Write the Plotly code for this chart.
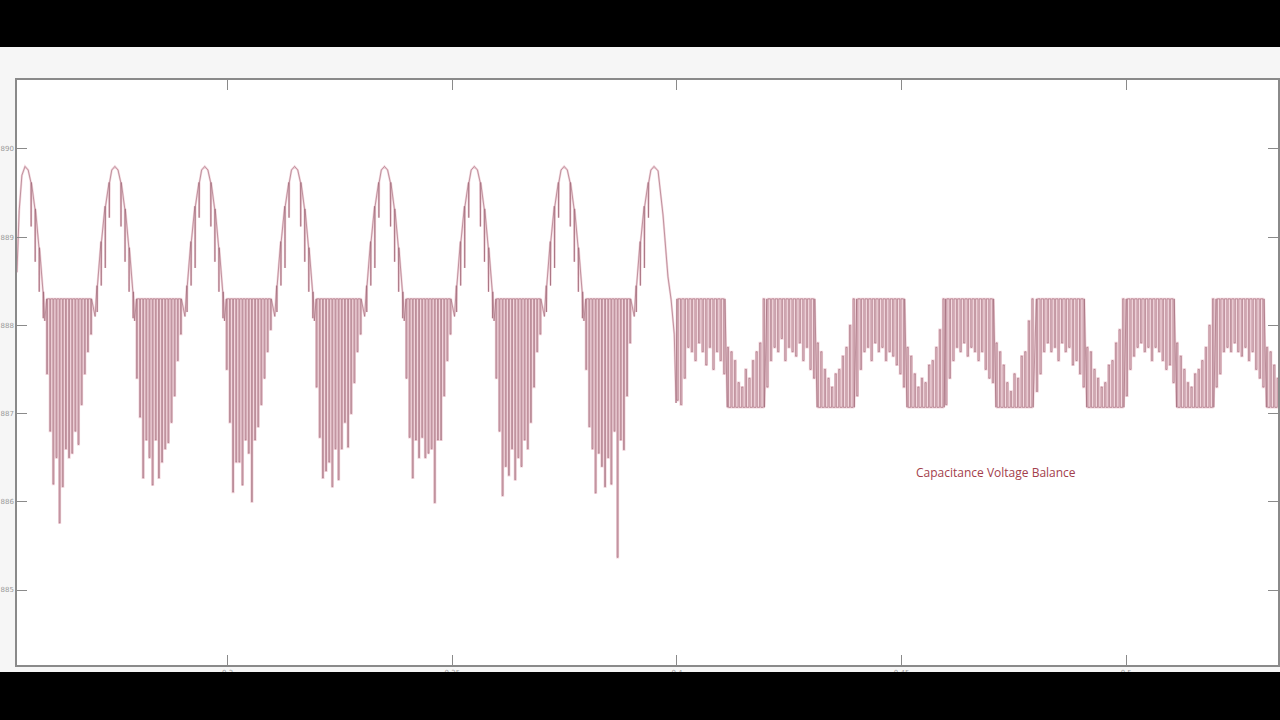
import plotly.graph_objects as go

# ---------------- data ----------------
# Phase 1: unbalanced capacitor voltage (peaks of the 50 Hz ripple)
PEAK_TIMES = [0.2549, 0.2749, 0.2949, 0.3149, 0.3349, 0.3549, 0.3749, 0.3949]
ARC_OFFSETS = [-0.0044, -0.0040, -0.0031, -0.0022, -0.0013, -0.0007, 0.0,
               0.0007, 0.0013, 0.0022, 0.0031, 0.0040, 0.0044]
ARC_VALUES = [888.10, 888.45, 888.95, 889.35, 889.62, 889.76, 889.80,
              889.76, 889.62, 889.32, 888.88, 888.38, 888.05]
ARC_DIPS = [0.0, 0.3, 0.5, 0.7, 0.4, 0.0, 0.0, 0.0, 0.5, 0.6, 0.5, 0.3, 0.0]
TROUGH_TOP = 888.3
TROUGH_BOTTOMS = [
    [887.45, 886.80, 886.20, 886.50, 885.76, 886.17, 886.60, 886.50, 886.55, 886.80, 886.65, 887.10, 887.45, 887.70, 887.90],
    [887.40, 886.96, 886.27, 886.70, 886.50, 886.19, 886.70, 886.27, 886.45, 886.60, 886.67, 886.90, 887.20, 887.60, 887.90],
    [887.50, 886.90, 886.11, 886.45, 886.45, 886.19, 886.70, 886.55, 886.00, 886.70, 886.85, 887.10, 887.40, 887.70, 887.95],
    [887.30, 886.73, 886.27, 886.35, 886.45, 886.17, 886.60, 886.25, 886.60, 886.90, 886.62, 887.00, 887.35, 887.70, 887.90],
    [887.40, 886.73, 886.27, 886.70, 886.50, 886.73, 886.50, 886.55, 886.60, 885.99, 886.70, 886.70, 887.20, 887.60, 887.90],
    [887.40, 886.80, 886.07, 886.40, 886.30, 886.60, 886.25, 886.50, 886.40, 886.70, 886.60, 886.90, 887.30, 887.70, 887.90],
    [887.50, 886.85, 886.60, 886.10, 886.55, 886.40, 886.17, 886.50, 886.20, 886.80, 885.37, 886.70, 886.59, 887.20, 887.80],
]
LEAD_OFFSETS = [-0.0018, -0.0013, -0.0007]
LEAD_VALUES = [888.60, 889.30, 889.70]
TAIL_OFFSETS = [0.0009, 0.0020, 0.0031, 0.0038, 0.0045, 0.0049]
TAIL_VALUES = [889.75, 889.25, 888.55, 888.29, 887.90, 887.12]

# Phase 2: balanced capacitor voltage
BAL_STARTS = [0.4000, 0.4200, 0.4400, 0.4598, 0.4800, 0.5000, 0.5200]
BAL_TOP = 888.30
BAL_BOTTOM = 887.07
BAL_HIGH_LOWS = [
    [887.15, 887.10, 887.40, 887.75, 887.70, 887.60, 887.80, 887.70, 887.55, 887.75, 887.50, 887.70, 887.60, 887.45],
    [887.30, 887.60, 887.75, 887.70, 887.85, 887.60, 887.75, 887.70, 887.65, 887.80, 887.60, 887.75, 887.50, 887.40],
    [887.20, 887.50, 887.70, 887.75, 887.60, 887.80, 887.70, 887.75, 887.60, 887.70, 887.65, 887.55, 887.45, 887.30],
    [887.10, 887.40, 887.60, 887.75, 887.70, 887.80, 887.65, 887.75, 887.70, 887.60, 887.70, 887.50, 887.40, 887.35],
    [887.25, 887.45, 887.70, 887.80, 887.70, 887.75, 887.60, 887.80, 887.70, 887.75, 887.55, 887.60, 887.45, 887.30],
    [887.20, 887.50, 887.65, 887.75, 887.80, 887.70, 887.75, 887.60, 887.75, 887.70, 887.60, 887.50, 887.55, 887.35],
    [887.30, 887.45, 887.70, 887.75, 887.70, 887.80, 887.70, 887.65, 887.75, 887.60, 887.70, 887.50, 887.40, 887.30],
]
BAL_LOW_HIGHS = [
    [887.75, 887.70, 887.60, 887.35, 887.30, 887.50, 887.40, 887.60, 887.70, 887.80, 888.30],
    [887.80, 887.70, 887.50, 887.40, 887.30, 887.45, 887.50, 887.65, 887.75, 888.00, 888.30],
    [887.75, 887.65, 887.45, 887.30, 887.40, 887.35, 887.55, 887.60, 887.75, 887.95, 888.30],
    [887.80, 887.70, 887.55, 887.35, 887.25, 887.45, 887.40, 887.65, 887.70, 888.05, 888.30],
    [887.75, 887.70, 887.50, 887.40, 887.30, 887.35, 887.55, 887.60, 887.80, 887.95, 888.30],
    [887.80, 887.65, 887.50, 887.35, 887.30, 887.45, 887.50, 887.60, 887.75, 888.00, 888.30],
    [887.75, 887.70, 887.55, 887.40, 887.30, 887.45, 887.50, 887.65, 887.70, 887.90, 888.30],
]

Y_TICKS = [885, 886, 887, 888, 889, 890]
X_TICKS = [0.3, 0.35, 0.4, 0.45, 0.5]
X_TICK_TEXT = ["0.3", "0.35", "0.4", "0.45", "0.5"]
LABEL = "Capacitance Voltage Balance"

# ---------------- build the switching waveform ----------------
EPS = 0.00006
STEP1 = 0.0007
STEP2 = 0.0008
PW1 = 0.00020
PW2 = 0.00028

ts, vs = [], []


def add(t, v):
    ts.append(t)
    vs.append(v)


for i, tp in enumerate(PEAK_TIMES):
    first = i == 0
    last = i == len(PEAK_TIMES) - 1
    if first:
        for off, v in zip(LEAD_OFFSETS, LEAD_VALUES):
            add(tp + off, v)
    for off, v, d in zip(ARC_OFFSETS, ARC_VALUES, ARC_DIPS):
        if first and off < 0:
            continue
        if last and off > 0:
            break
        add(tp + off, v)
        if d:
            add(tp + off + EPS, v - d)
            add(tp + off + 2 * EPS, v)
    if last:
        for off, v in zip(TAIL_OFFSETS, TAIL_VALUES):
            add(tp + off, v)
        break
    for k, b in enumerate(TROUGH_BOTTOMS[i]):
        t = tp + 0.0048 + k * STEP1
        add(t, TROUGH_TOP)
        add(t, b)
        add(t + PW1, b)
        add(t + PW1, TROUGH_TOP)

for c, start in enumerate(BAL_STARTS):
    for k, lo in enumerate(BAL_HIGH_LOWS[c]):
        t = start + k * STEP2
        add(t, BAL_TOP)
        add(t, lo)
        add(t + PW2, lo)
        add(t + PW2, BAL_TOP)
    low_start = start + len(BAL_HIGH_LOWS[c]) * STEP2
    for k, hi in enumerate(BAL_LOW_HIGHS[c]):
        t = low_start + k * STEP2
        add(t, BAL_BOTTOM)
        add(t, hi)
        add(t + PW2, hi)
        add(t + PW2, BAL_BOTTOM)

fig = go.Figure()
fig.add_trace(go.Scatter(x=ts, y=vs, mode="lines",
                         line=dict(color="rgba(232,176,190,0.55)", width=2.2),
                         hoverinfo="skip", showlegend=False))
fig.add_trace(go.Scatter(x=ts, y=vs, mode="lines",
                         line=dict(color="rgba(150,92,108,0.62)", width=0.9),
                         showlegend=False))

fig.add_annotation(x=0.4711, y=886.33, text=LABEL, showarrow=False,
                   font=dict(family="Open Sans", size=12, color="#a3404c"))

# black letterbox bars of the video frame
fig.add_shape(type="rect", xref="paper", yref="paper",
              x0=-0.02, x1=1.01, y0=(665 - 47) / 585, y1=1.2,
              fillcolor="black", line_width=0, layer="above")
fig.add_shape(type="rect", xref="paper", yref="paper",
              x0=-0.02, x1=1.01, y0=-0.2, y1=(665 - 672) / 585,
              fillcolor="black", line_width=0, layer="above")

axis_common = dict(showgrid=False, zeroline=False, showline=True,
                   linecolor="#8a8a8a", linewidth=1.5, mirror="ticks",
                   ticks="inside", ticklen=10, tickcolor="#8a8a8a", tickwidth=1.2,
                   tickfont=dict(family="DejaVu Sans", size=7, color="#9a9a9a"))

fig.update_xaxes(range=[0.25311, 0.53378], tickvals=X_TICKS, ticktext=X_TICK_TEXT,
                 **axis_common)
fig.update_yaxes(range=[884.15, 890.78], tickvals=Y_TICKS,
                 ticktext=[str(v) for v in Y_TICKS], **axis_common)

fig.update_layout(width=1280, height=720,
                  margin=dict(l=17, r=0, t=80, b=55),
                  paper_bgcolor="#f6f6f6", plot_bgcolor="white",
                  showlegend=False)

fig.write_html("out.html", config={"displayModeBar": False},
               post_script="document.body.style.margin='0';document.body.style.overflow='hidden';")
